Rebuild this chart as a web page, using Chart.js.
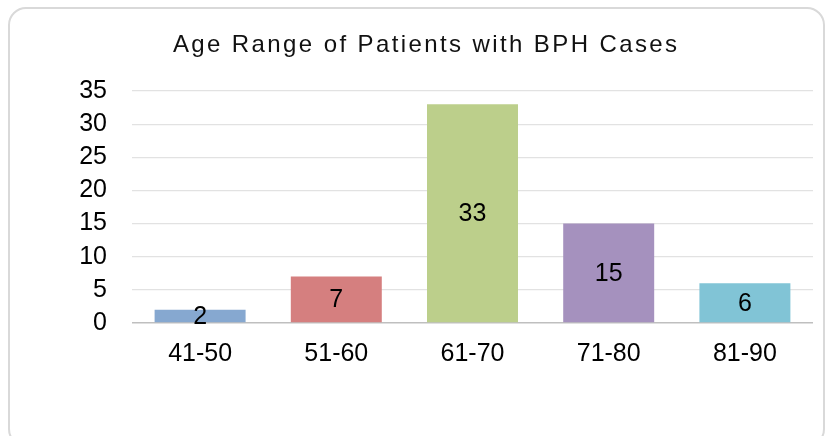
<!DOCTYPE html>
<html>
<head>
<meta charset="utf-8">
<script src="https://cdn.jsdelivr.net/npm/chart.js@4/dist/chart.umd.min.js"></script>
<style>
  html, body { margin: 0; padding: 0; background: #ffffff; }
  #wrap { position: relative; width: 830px; height: 436px; overflow: hidden; }
  #frame { position: absolute; left: 8px; top: 7px; width: 817px; height: 440px;
           border: 2px solid #d9d9d9; border-radius: 18px; box-sizing: border-box; }
  canvas { position: absolute; left: 0; top: 0; }
</style>
</head>
<body>
<div id="wrap">
  <div id="frame"></div>
  <canvas id="c" width="830" height="436"></canvas>
</div>
<script>
const titleText = "Age Range of Patients with BPH Cases";
const categories = ["41-50", "51-60", "61-70", "71-80", "81-90"];
const patientCounts = [2, 7, 33, 15, 6];
const yMax = 35;
const yStep = 5;
const barColors = ["#86a8d0", "#d57f7f", "#bccf8b", "#a591be", "#81c4d6"];

const FONT = "'Liberation Sans', Arial, sans-serif";

const titlePlugin = {
  id: 'spacedTitle',
  afterDraw(chart) {
    const ctx = chart.ctx;
    ctx.save();
    ctx.font = "24px " + FONT;
    ctx.fillStyle = "#111111";
    ctx.textAlign = "left";
    ctx.textBaseline = "alphabetic";
    if ('letterSpacing' in ctx) ctx.letterSpacing = "2.4px";
    const w = ctx.measureText(titleText).width - 2.4;
    ctx.fillText(titleText, 425 - w / 2, 52);
    ctx.restore();
  }
};

const valueLabels = {
  id: 'valueLabels',
  afterDatasetsDraw(chart) {
    const ctx = chart.ctx;
    const meta = chart.getDatasetMeta(0);
    ctx.save();
    ctx.font = "25px " + FONT;
    ctx.fillStyle = "#000000";
    ctx.textAlign = "center";
    ctx.textBaseline = "middle";
    meta.data.forEach((bar, i) => {
      const p = bar.getProps(['x', 'y', 'base'], true);
      const cy = (p.y + p.base) / 2 + 1;
      ctx.fillText(String(chart.data.datasets[0].data[i]), p.x, cy);
    });
    ctx.restore();
  }
};

new Chart(document.getElementById('c'), {
  type: 'bar',
  data: {
    labels: categories,
    datasets: [{
      data: patientCounts,
      backgroundColor: barColors,
      borderWidth: 0,
      categoryPercentage: 1.0,
      barPercentage: 0.668
    }]
  },
  options: {
    responsive: false,
    animation: false,
    devicePixelRatio: 1,
    layout: { padding: { top: 91, right: 17, left: 0, bottom: 0 } },
    plugins: {
      legend: { display: false },
      title: { display: false },
      tooltip: { enabled: false }
    },
    scales: {
      x: {
        grid: { display: false, drawTicks: false },
        border: { display: false },
        ticks: { color: "#000000", font: { family: FONT, size: 25 }, padding: 16, maxRotation: 0 },
        afterFit(scale) { scale.height = 113; }
      },
      y: {
        min: 0,
        max: yMax,
        ticks: { stepSize: yStep, color: "#000000", font: { family: FONT, size: 25 }, padding: 25 },
        grid: {
          drawTicks: false,
          color: (c) => (c.tick && c.tick.value === 0) ? "#bfbfbf" : "#e2e2e2",
          lineWidth: (c) => (c.tick && c.tick.value === 0) ? 1.5 : 1.2
        },
        border: { display: false },
        afterFit(scale) { scale.width = 132; }
      }
    }
  },
  plugins: [titlePlugin, valueLabels]
});
</script>
</body>
</html>
